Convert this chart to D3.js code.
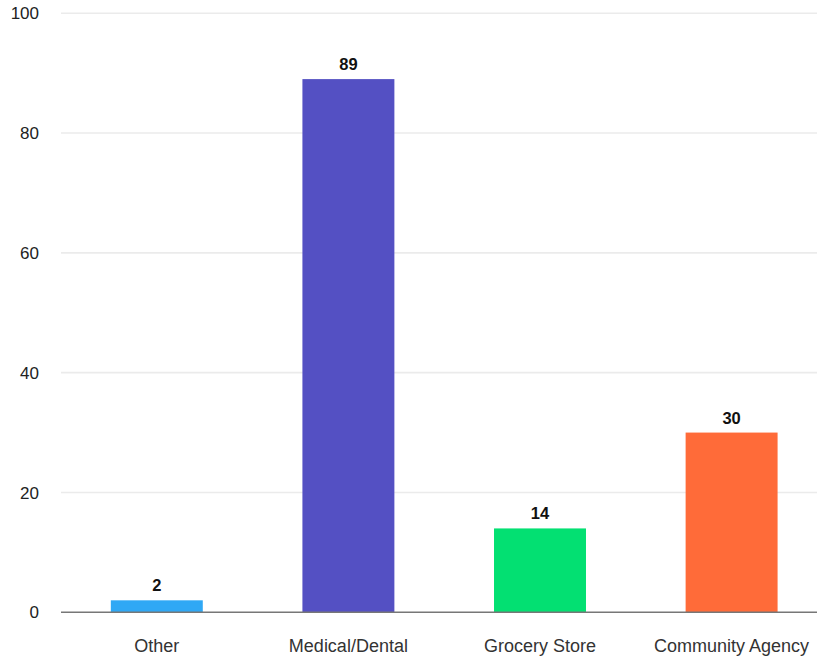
<!DOCTYPE html>
<html>
<head>
<meta charset="utf-8">
<script src="https://cdn.jsdelivr.net/npm/d3@7"></script>
<style>
  html, body { margin: 0; padding: 0; background: #fff; }
  svg { display: block; font-family: "Liberation Sans", Arial, sans-serif; }
</style>
</head>
<body>
<div id="chart"></div>
<script>
// Responses by source
const categories = ["Other", "Medical/Dental", "Grocery Store", "Community Agency"];
const values = [2, 89, 14, 30];
const colors = ["#2fa8f5", "#5450c3", "#03e072", "#ff6b39"];
const yTicks = [0, 20, 40, 60, 80, 100];

const W = 817, H = 659;
const plotLeft = 61, plotTop = 13.2, plotBottom = 612.3;

const svg = d3.select("#chart").append("svg")
  .attr("width", W).attr("height", H);

const x = d3.scaleBand()
  .domain(categories)
  .range([plotLeft, plotLeft + 191.6 * 4])
  .paddingInner(0.52)
  .paddingOuter(0.26);

const y = d3.scaleLinear().domain([0, 100]).range([plotBottom, plotTop]);

// horizontal gridlines
svg.append("g").selectAll("line")
  .data(yTicks.filter(d => d !== 0))
  .join("line")
  .attr("x1", plotLeft).attr("x2", W)
  .attr("y1", d => y(d)).attr("y2", d => y(d))
  .attr("stroke", "#ebebeb").attr("stroke-width", 1.6);

// y tick labels
svg.append("g").selectAll("text")
  .data(yTicks)
  .join("text")
  .attr("x", 39).attr("y", d => y(d))
  .attr("dy", "0.36em")
  .attr("text-anchor", "end")
  .attr("font-size", 17)
  .attr("fill", "#222")
  .text(d => d);

// bars
svg.append("g").selectAll("rect")
  .data(categories)
  .join("rect")
  .attr("x", d => x(d))
  .attr("width", x.bandwidth())
  .attr("y", (d, i) => y(values[i]))
  .attr("height", (d, i) => y(0) - y(values[i]))
  .attr("fill", (d, i) => colors[i]);

// baseline
svg.append("line")
  .attr("x1", plotLeft).attr("x2", W)
  .attr("y1", y(0)).attr("y2", y(0))
  .attr("stroke", "#777").attr("stroke-width", 1.5);

// value labels
svg.append("g").selectAll("text")
  .data(categories)
  .join("text")
  .attr("x", d => x(d) + x.bandwidth() / 2)
  .attr("y", (d, i) => y(values[i]) - 9)
  .attr("text-anchor", "middle")
  .attr("font-size", 16.5)
  .attr("font-weight", "bold")
  .attr("fill", "#111")
  .text((d, i) => values[i]);

// category labels
svg.append("g").selectAll("text")
  .data(categories)
  .join("text")
  .attr("x", d => x(d) + x.bandwidth() / 2)
  .attr("y", 651.5)
  .attr("text-anchor", "middle")
  .attr("font-size", 18)
  .attr("fill", "#333")
  .text(d => d);
</script>
</body>
</html>
